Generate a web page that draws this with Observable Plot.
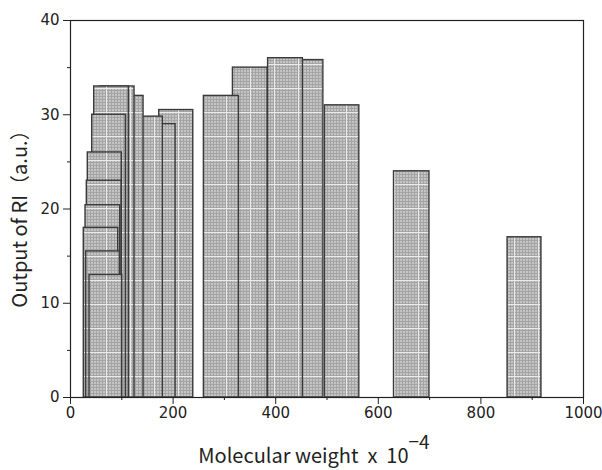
<!DOCTYPE html>
<html><head><meta charset="utf-8">
<script src="https://cdn.jsdelivr.net/npm/d3@7"></script>
<script src="https://cdn.jsdelivr.net/npm/@observablehq/plot@0.6"></script>
<style>body{margin:0;background:#fff}</style>
</head><body><div id="chart"></div>
<script>
// Bars in drawing order (later bars are drawn on top)
const mwLow  = [316.6, 260.0, 425.0, 385.2, 496.0, 630.6, 852.0, 173.0, 137.5, 112.3, 74.7, 57.1, 46.2, 42.3, 33.7, 31.8, 29.3, 25.9, 30.6, 37.1];
const mwHigh = [384.2, 328.3, 492.9, 453.0, 563.0, 699.7, 918.0, 239.3, 204.8, 180.0, 142.4, 124.8, 113.7, 107.9, 100.0, 99.5, 96.9, 93.0, 96.2, 100.8];
const output = [35.0, 32.0, 35.8, 36.0, 31.0, 24.0, 17.0, 30.5, 29.0, 29.8, 32.0, 33.0, 33.0, 30.0, 26.0, 23.0, 20.4, 18.0, 15.5, 13.0];
const xMajor = [0, 200, 400, 600, 800, 1000];
const xMinor = [100, 300, 500, 700, 900];
const yMajor = [0, 10, 20, 30, 40];
const yMinor = [5, 15, 25, 35];

const data = output.map((v, i) => ({x1: mwLow[i], x2: mwHigh[i], v}));
const font = "'Noto Sans CJK JP', 'Noto Sans', sans-serif";
const tickFont = "'DejaVu Sans', sans-serif";

const plot = Plot.plot({
  width: 602, height: 470,
  marginLeft: 70, marginRight: 19, marginTop: 20, marginBottom: 73,
  x: {domain: [0, 1000]},
  y: {domain: [0, 40]},
  style: {fontFamily: tickFont, fontSize: "15px", color: "#222", background: "#fff"},
  marks: [
    Plot.rect(data, {x1: "x1", x2: "x2", y1: 0, y2: "v", fill: "url(#grid)", stroke: "#3a3a3a", strokeWidth: 1.4}),
    Plot.frame({stroke: "#222", strokeWidth: 1.2}),
    Plot.axisX(xMajor, {tickSize: 7, tickPadding: 3, label: null, stroke: "#222", fill: "#222", fontSize: 15, tickFormat: d => String(d)}),
    Plot.axisX(xMinor, {tickSize: 3, label: null, stroke: "#222", tickFormat: () => ""}),
    Plot.axisY(yMajor, {tickSize: 7, tickPadding: 4, label: null, stroke: "#222", fill: "#222", fontSize: 15, tickFormat: d => String(d)}),
    Plot.axisY(yMinor, {tickSize: 3, label: null, stroke: "#222", tickFormat: () => ""})
  ]
});

const svg = d3.select(plot);
const defs = svg.insert("defs", ":first-child");
const pat = defs.append("pattern").attr("id", "grid").attr("patternUnits", "userSpaceOnUse")
  .attr("width", 24).attr("height", 24);
pat.append("rect").attr("width", 24).attr("height", 24).attr("fill", "#c4c4c4");
for (let k = 0; k < 24; k += 3) {
  pat.append("rect").attr("x", k).attr("y", 0).attr("width", 0.9).attr("height", 24).attr("fill", "#a2a2a2");
  pat.append("rect").attr("x", 0).attr("y", k).attr("width", 24).attr("height", 0.9).attr("fill", "#a2a2a2");
}
pat.append("rect").attr("x", 10).attr("y", 0).attr("width", 1).attr("height", 24).attr("fill", "#eaeaea");
pat.append("rect").attr("x", 0).attr("y", 16).attr("width", 24).attr("height", 1).attr("fill", "#eaeaea");

svg.append("text")
  .attr("transform", "translate(27,214) rotate(-90)")
  .attr("text-anchor", "middle")
  .style("font-family", font).style("font-size", "20px").attr("fill", "#222")
  .text("Output of RI（a.u.）");

const xl = svg.append("text")
  .attr("x", 314).attr("y", 463)
  .attr("text-anchor", "middle")
  .style("font-family", font).style("font-size", "20px").style("white-space", "pre").attr("fill", "#222");
xl.append("tspan").text("Molecular weight  x  10");
xl.append("tspan").attr("dy", -14).style("font-size", "19px").text("−4");

document.getElementById("chart").appendChild(plot);
</script>
</body></html>
